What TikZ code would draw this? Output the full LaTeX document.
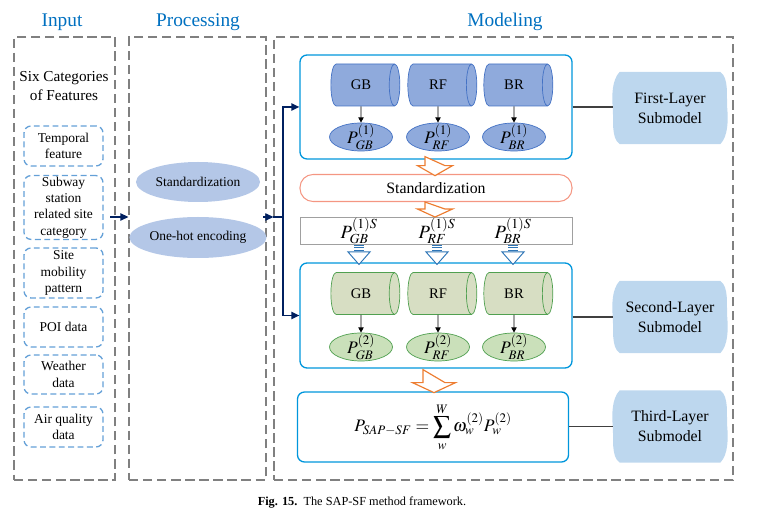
\documentclass[tikz,border=0pt]{standalone}
\usepackage{mathptmx}
\usepackage{fontspec}
\setmainfont{Liberation Serif}
\usetikzlibrary{shapes.geometric,calc,backgrounds,arrows.meta}

\definecolor{titleBlue}{RGB}{0,112,192}
\definecolor{frameGray}{RGB}{128,128,128}
\definecolor{featBlue}{RGB}{100,160,215}
\definecolor{procFill}{RGB}{180,199,231}
\definecolor{layerLine}{RGB}{0,150,220}
\definecolor{cylFillA}{RGB}{143,170,220}
\definecolor{cylLineA}{RGB}{68,114,196}
\definecolor{cylFillB}{RGB}{215,222,195}
\definecolor{probFillB}{RGB}{202,224,186}
\definecolor{cylLineB}{RGB}{80,160,80}
\definecolor{stdLine}{RGB}{244,150,130}
\definecolor{arrowOrange}{RGB}{237,125,49}
\definecolor{arrowBlue}{RGB}{46,117,182}
\definecolor{boxGray}{RGB}{160,160,160}
\definecolor{subFill}{RGB}{189,215,238}
\definecolor{navy}{RGB}{0,32,96}

\tikzset{
  pics/hollowDown/.style n args={5}{code={
    \filldraw[draw=#5, fill=white, line width=1pt] (-#2,0) -- (-#2,{#1-#4}) -- (-#3,{#1-#4}) -- (0,#1) -- (#3,{#1-#4}) -- (#2,{#1-#4}) -- cycle;
  }},
  pics/stripedDown/.style={code={
    \draw[arrowBlue, line width=0.8pt] (-5,1) -- (5,1) (-5,3.5) -- (5,3.5) (-5,6) -- (5,6);
    \filldraw[draw=arrowBlue, fill=white, line width=0.8pt] (-11,7.5) -- (11,7.5) -- (0,20) -- cycle;
  }},
}

\begin{document}
\begin{tikzpicture}
  [x=0.03cm, y=-0.03cm,
  stageTitle/.style={text=titleBlue, font=\fontsize{16.5}{18}\selectfont},
  stageBox/.style={draw=frameGray, line width=1pt, dash pattern=on 8pt off 4pt, minimum height=13.29cm},
  featBox/.style={draw=featBlue, line width=1.1pt, dash pattern=on 5pt off 3pt, rounded corners=6pt, minimum width=2.37cm, align=center, inner sep=1pt, font=\fontsize{11.5}{14}\selectfont},
  procEll/.style={ellipse, fill=procFill, minimum width=3.72cm, minimum height=1.2cm, inner sep=0pt, font=\fontsize{11.5}{14}\selectfont},
  layerBox/.style={draw=layerLine, line width=1.1pt, rounded corners=6pt, minimum width=8.16cm},
  cylA/.style={cylinder, draw=cylLineA, fill=cylFillA, line width=0.6pt, aspect=0.6, minimum width=1.26cm, minimum height=2.07cm, font=\fontsize{12.5}{14}\selectfont},
  cylB/.style={cylinder, draw=cylLineB, fill=cylFillB, line width=0.6pt, aspect=0.6, minimum width=1.26cm, minimum height=2.07cm, font=\fontsize{12.5}{14}\selectfont},
  probA/.style={ellipse, draw=cylLineA, fill=cylFillA, line width=0.6pt, minimum width=1.89cm, minimum height=0.84cm, inner sep=-2.5pt, font=\fontsize{15}{16}\selectfont},
  probB/.style={ellipse, draw=cylLineB, fill=probFillB, line width=0.6pt, minimum width=1.89cm, minimum height=0.84cm, inner sep=-2.5pt, font=\fontsize{15}{16}\selectfont},
  subModel/.style={minimum width=3.42cm, minimum height=2.16cm, align=center, font=\fontsize{13.5}{17}\selectfont},
  navyArrow/.style={navy, line width=1.2pt, -{Triangle[length=2.4mm,width=2.2mm]}},
  blackArrow/.style={black, line width=0.8pt, -{Triangle[length=1.6mm,width=1.6mm]}},
  linkLine/.style={draw=black!75, line width=1pt}]

  \useasboundingbox (0,0) rectangle (757,515);

  % stages
  \node[stageTitle] (tIn) at (62,22) {Input};
  \node[stageTitle] (tProc) at (198,22) {Processing};
  \node[stageTitle] (tMod) at (505,22) {Modeling};
  \node[stageBox, minimum width=3.03cm] (input) at (64.5,258.5) {};
  \node[stageBox, minimum width=4.11cm] (proc) at (197.5,258.5) {};
  \node[stageBox, minimum width=13.77cm] (model) at (503.5,258.5) {};

  % input
  \node[align=center, font=\fontsize{13}{16}\selectfont] (six) at (64,86) {Six Categories\\of Features};
  \node[featBox, minimum height=1.2cm] (f1) at (63.5,146) {Temporal\\feature};
  \node[featBox, minimum height=1.83cm] (f2) at (63.5,207.5) {Subway\\station\\related site\\category};
  \node[featBox, minimum height=1.5cm] (f3) at (63.5,273) {Site\\mobility\\pattern};
  \node[featBox, minimum height=1.2cm] (f4) at (63.5,327) {POI data};
  \node[featBox, minimum height=1.17cm] (f5) at (63.5,374.5) {Weather\\data};
  \node[featBox, minimum height=1.2cm] (f6) at (63.5,427) {Air quality\\data};

  % processing
  \node[procEll] (std1) at (198,182) {Standardization};
  \node[procEll, minimum height=1.23cm] (hot) at (198,237.5) {One-hot encoding};

  % modeling
  \node[layerBox, minimum height=3.12cm] (layer1) at (436,107) {};
  \node[draw=stdLine, line width=0.9pt, rounded corners=13*0.3mm, minimum width=8.16cm, minimum height=0.81cm, font=\fontsize{13.5}{16}\selectfont] (std2) at (436,188) {Standardization};
  \node[draw=boxGray, line width=0.8pt, minimum width=8.16cm, minimum height=0.81cm] (psbox) at (436,230.5) {};
  \node[layerBox, minimum height=3.15cm] (layer2) at (436,315.5) {};
  \node[layerBox, minimum width=8.13cm, minimum height=2.1cm, font=\fontsize{15}{18}\selectfont] (layer3) at (433,427)
    {$\displaystyle P_{SAP-SF}=\sum_{w}^{W}\omega_w^{(2)}P_w^{(2)}$};

  \node[cylA] (cgb1) at (361,85) {GB};
  \node[cylA] (crf1) at (438,85) {RF};
  \node[cylA] (cbr1) at (514,85) {BR};
  \node[probA] (pgb1) at (361,137) {$P^{(1)}_{GB}$};
  \node[probA] (prf1) at (438,137) {$P^{(1)}_{RF}$};
  \node[probA] (pbr1) at (514,137) {$P^{(1)}_{BR}$};

  \node[font=\fontsize{16}{18}\selectfont] (sgb) at (359,231) {$P^{(1)S}_{GB}$};
  \node[font=\fontsize{16}{18}\selectfont] (srf) at (437,231) {$P^{(1)S}_{RF}$};
  \node[font=\fontsize{16}{18}\selectfont] (sbr) at (513,231) {$P^{(1)S}_{BR}$};

  \node[cylB] (cgb2) at (361,293.5) {GB};
  \node[cylB] (crf2) at (438,293.5) {RF};
  \node[cylB] (cbr2) at (514,293.5) {BR};
  \node[probB] (pgb2) at (361,347) {$P^{(2)}_{GB}$};
  \node[probB] (prf2) at (438,347) {$P^{(2)}_{RF}$};
  \node[probB] (pbr2) at (514,347) {$P^{(2)}_{BR}$};

  \node[subModel] (sub1) at (670,108) {First-Layer\\Submodel};
  \node[subModel] (sub2) at (670,317) {Second-Layer\\Submodel};
  \node[subModel] (sub3) at (670,426.5) {Third-Layer\\Submodel};
  \begin{scope}[on background layer]
    \foreach \s in {sub1,sub2,sub3}
      \fill[subFill] ($(\s.north west)+(7,0)$) -- ($(\s.north east)+(-7,0)$)
        .. controls ($(\s.east)+(2,-30)$) and ($(\s.east)+(-1,-12)$) .. (\s.east)
        .. controls ($(\s.east)+(1,12)$) and ($(\s.east)+(1,28)$) .. ($(\s.south east)+(-7,0)$)
        -- ($(\s.south west)+(7,0)$)
        .. controls ($(\s.west)+(-2,30)$) and ($(\s.west)+(1,12)$) .. (\s.west)
        .. controls ($(\s.west)+(-1,-12)$) and ($(\s.west)+(-1,-28)$) .. cycle;
  \end{scope}

  % connectors
  \coordinate (a1) at (110,217);
  \coordinate (a2) at (263,217);
  \coordinate (jn) at (283,217);
  \draw[navyArrow] (a1) -- (a1 -| proc.west);
  \draw[navyArrow] (a2) -- (a2 -| model.west);
  \draw[navy, line width=1.2pt] (a2 -| model.west) -- (jn);
  \draw[navyArrow] (jn) |- (layer1.west);
  \draw[navyArrow] (jn) |- (layer2.west);

  \foreach \c/\p in {cgb1/pgb1,crf1/prf1,cbr1/pbr1,cgb2/pgb2,crf2/prf2,cbr2/pbr2}
    \draw[blackArrow] (\c) -- (\p);

  \draw[linkLine] (layer1.east) -- (layer1.east -| sub1.west);
  \draw[linkLine] (layer2.east |- sub2.west) -- (sub2.west);
  \draw[linkLine] (layer3.east |- sub3.west) -- (sub3.west);

  \pic at ($(layer1.south)+(-1,-3)$) {hollowDown={19}{10}{17.5}{10}{arrowOrange}};
  \pic at ($(std2.south)+(-1,0)$) {hollowDown={15}{10}{17.5}{8}{arrowOrange}};
  \pic at ($(layer2.south)+(-2,1)$) {hollowDown={23}{11}{21.5}{10}{arrowOrange}};
  \foreach \s in {sgb,srf,sbr}
    \pic at (\s |- psbox.south) {stripedDown};

  \node[font=\fontsize{10.5}{12}\selectfont] (cap) at (362,503) {\textbf{Fig. 15.}\enspace The SAP-SF method framework.};
\end{tikzpicture}
\end{document}
